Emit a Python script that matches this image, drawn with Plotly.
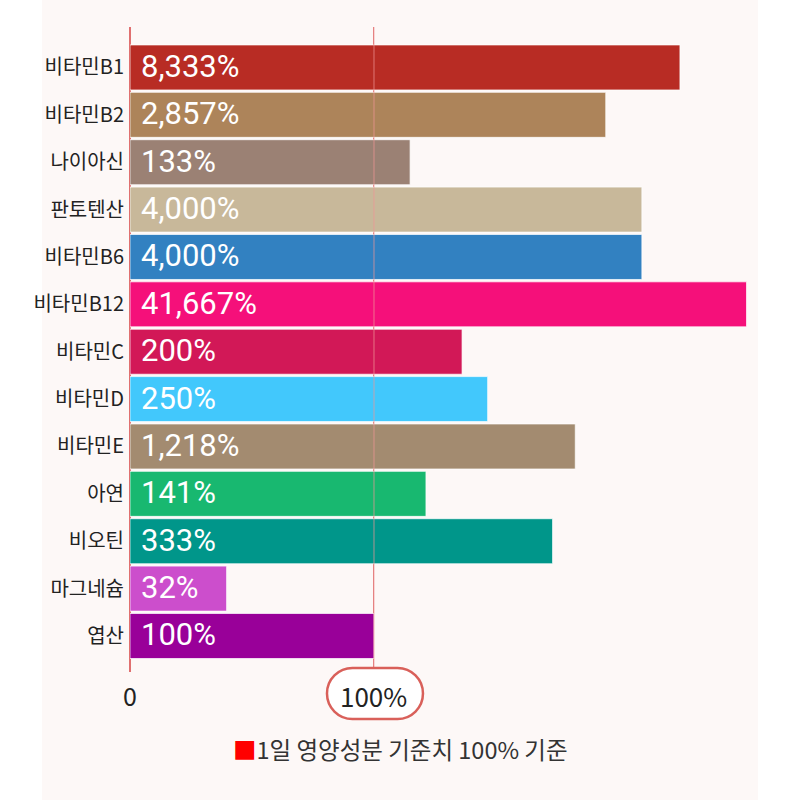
import plotly.graph_objects as go

# ---- data ----
categories = ['비타민B1', '비타민B2', '나이아신', '판토텐산', '비타민B6', '비타민B12',
              '비타민C', '비타민D', '비타민E', '아연', '비오틴', '마그네슘', '엽산']
pct_labels = ['8,333%', '2,857%', '133%', '4,000%', '4,000%', '41,667%',
              '200%', '250%', '1,218%', '141%', '333%', '32%', '100%']
# displayed bar lengths (chart uses a non-linear, illustrative scale; 100 = 100% mark)
bar_lengths = [225.4, 195.0, 114.8, 209.8, 209.8, 252.7,
               136.1, 146.6, 182.5, 121.3, 173.2, 39.6, 100.0]
bar_colors = ['#b82c24', '#ad845a', '#9b8174', '#c8b89a', '#3281c1', '#f5107a',
              '#d21857', '#42c8fc', '#a38b70', '#18b870', '#00968a', '#cc4ecc', '#990099']
x_tickvals = [0, 100]
x_ticktext = ['0', '100%']
legend_text = '1일 영양성분 기준치 100% 기준'

KFONT = 'Noto Sans CJK KR'

fig = go.Figure()
fig.add_trace(go.Bar(
    y=categories, x=bar_lengths, orientation='h',
    marker=dict(color=bar_colors, line=dict(color='rgba(255,255,255,0.7)', width=1)),
    width=0.95, hoverinfo='skip', showlegend=False,
))

annotations = []
for cat, lab in zip(categories, pct_labels):
    annotations.append(dict(
        x=0, y=cat, xref='x', yref='y', text=lab, showarrow=False,
        xanchor='left', yanchor='middle', xshift=9, yshift=1,
        font=dict(family='Roboto', size=31, color='#ffffff'),
    ))

# 100% tick label drawn as annotation so it sits on top of its pill
annotations.append(dict(
    x=x_tickvals[1], y=0, xref='x', yref='paper', text=x_ticktext[1], showarrow=False,
    xanchor='center', yanchor='middle', yshift=-23,
    font=dict(family=KFONT, size=26, color='#222222'),
))

annotations.append(dict(
    x=0.43, y=-0.119, xref='paper', yref='paper', showarrow=False,
    xanchor='center', yanchor='middle',
    text="<span style='color:#ff0000'>■</span>" + legend_text,
    font=dict(family=KFONT, size=23.5, color='#333333'),
))

# rounded "pill" behind the 100% tick label
def pill_path(x0, x1, y0, y1):
    r = (y1 - y0) / 2.0
    k = 0.5523 * r
    yc = (y0 + y1) / 2.0
    return (f"M {x0 + r},{y1} L {x1 - r},{y1} "
            f"C {x1 - r + k},{y1} {x1},{yc + k} {x1},{yc} "
            f"C {x1},{yc - k} {x1 - r + k},{y0} {x1 - r},{y0} "
            f"L {x0 + r},{y0} "
            f"C {x0 + r - k},{y0} {x0},{yc - k} {x0},{yc} "
            f"C {x0},{yc + k} {x0 + r - k},{y1} {x0 + r},{y1} Z")

shapes = [
    # page panel background
    dict(type='rect', xref='paper', yref='paper', x0=-0.1401, x1=1.0, y0=-0.1984, y1=1.0419,
         fillcolor='#fdf8f7', line=dict(width=0), layer='below'),
    # 100% guide drawn over the bars
    dict(type='line', xref='x', yref='paper', x0=100, x1=100, y0=0, y1=1,
         line=dict(color='rgba(240,150,150,0.6)', width=1.2), layer='above'),
    dict(type='path', xref='x', yref='paper', xsizemode='pixel', ysizemode='pixel',
         xanchor=100, yanchor=0, path=pill_path(-47, 49, -47, 4),
         fillcolor='#ffffff', line=dict(color='#d9605a', width=2.5), layer='above'),
]

fig.update_layout(
    width=800, height=800,
    margin=dict(l=130, r=42, t=27, b=128),
    paper_bgcolor='#ffffff', plot_bgcolor='rgba(0,0,0,0)',
    bargap=0.05,
    shapes=shapes, annotations=annotations,
    showlegend=False,
)
fig.update_xaxes(
    range=[0, 257.4], tickvals=x_tickvals, ticktext=[x_ticktext[0], ''],
    showgrid=True, gridcolor='#e07878', gridwidth=1.2,
    zeroline=True, zerolinecolor='#e07070', zerolinewidth=1.5,
    showline=False, ticks='', ticklabelstandoff=8,
    tickfont=dict(family=KFONT, size=25, color='#222222'),
    fixedrange=True,
)
fig.update_yaxes(
    categoryorder='array', categoryarray=categories,
    range=[12.76, -0.854], showgrid=False, zeroline=False, showline=False,
    ticks='', ticklabelstandoff=5,
    tickfont=dict(family=KFONT, size=20, color='#222222'),
    fixedrange=True,
)

fig.write_html('out.html')
